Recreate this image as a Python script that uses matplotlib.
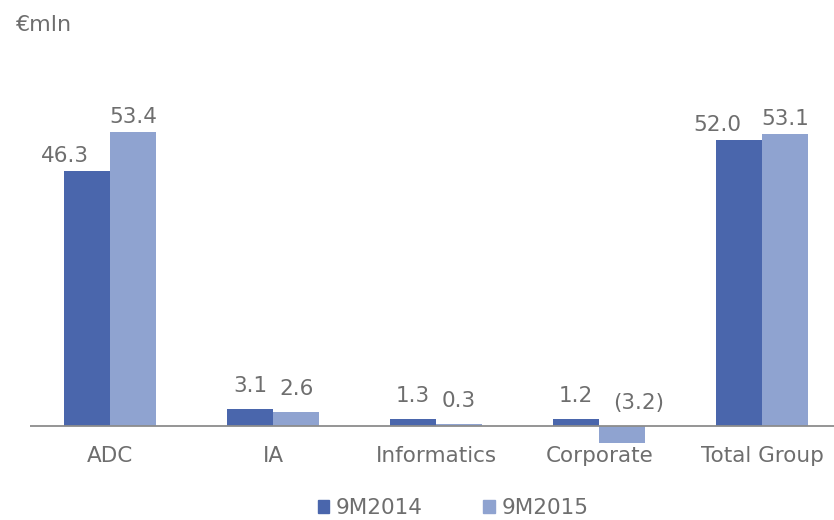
import matplotlib
matplotlib.use("Agg")
from matplotlib import pyplot as plt
from matplotlib.patches import Patch
import numpy as np

# data
categories = ["ADC", "IA", "Informatics", "Corporate", "Total Group"]
v2014 = [46.3, 3.1, 1.3, 1.2, 52.0]
v2015 = [53.4, 2.6, 0.3, -3.2, 53.1]
series = ["9M2014", "9M2015"]

c_dark = "#4a66ac"
c_light = "#8fa3d0"
txt = "#6e6e6e"
fs = 15.5

plt.rcParams['font.family'] = ['DejaVu Sans']

fig = plt.figure(figsize=(8.34, 5.2), dpi=100)
ax = fig.add_axes([30/834, 60/520, 804/834, 400/520])

x = np.arange(len(categories))
w = 0.283
b1 = ax.bar(x - w/2, v2014, w, color=c_dark, zorder=2)
b2 = ax.bar(x + w/2, v2015, w, color=c_light, zorder=2)

def fmt(v):
    return "(%.1f)" % abs(v) if v < 0 else "%.1f" % v

for i in range(len(categories)):
    a, b = v2014[i], v2015[i]
    big = max(abs(a), abs(b)) > 10
    for bar, v, k in ((b1[i], a, 0), (b2[i], b, 1)):
        dx = 0
        if big and k == 0:
            dx = -22   # excel pushes the left label aside
        if v < 0:
            dx = 16
        if big:
            y = max(v, 0)
            dy = 9
        else:
            y = max(v, 0)
            dy = 17
        ax.annotate(fmt(v), (bar.get_x() + bar.get_width()/2, y),
                    xytext=(dx, dy), textcoords="offset pixels",
                    ha="center", va="baseline", fontsize=fs, color=txt)

ax.axhline(0, color="#8c8c8c", lw=1.3, zorder=3)
ax.set_xlim(-0.49, 4.44)
ax.set_ylim(-6.2, 66.5)
ax.set_xticks(x)
ax.set_xticklabels(categories, fontsize=fs, color=txt)
ax.tick_params(axis="x", length=0, pad=-10)
ax.set_yticks([])
for s in ax.spines.values():
    s.set_visible(False)
ax.patch.set_alpha(0)

fig.text(16/834, 1 - 25/520, "€mln", fontsize=16, color=txt, va="center", ha="left")

handles = [Patch(color=c_dark), Patch(color=c_light)]
fig.legend(handles, series, loc="center", bbox_to_anchor=(453/834, 1 - 508/520),
           ncol=2, frameon=False, fontsize=fs, labelcolor=txt,
           handlelength=0.55, handleheight=0.55, handletextpad=0.3, columnspacing=2.8)

fig.savefig("out.png", dpi=100, facecolor="white")
